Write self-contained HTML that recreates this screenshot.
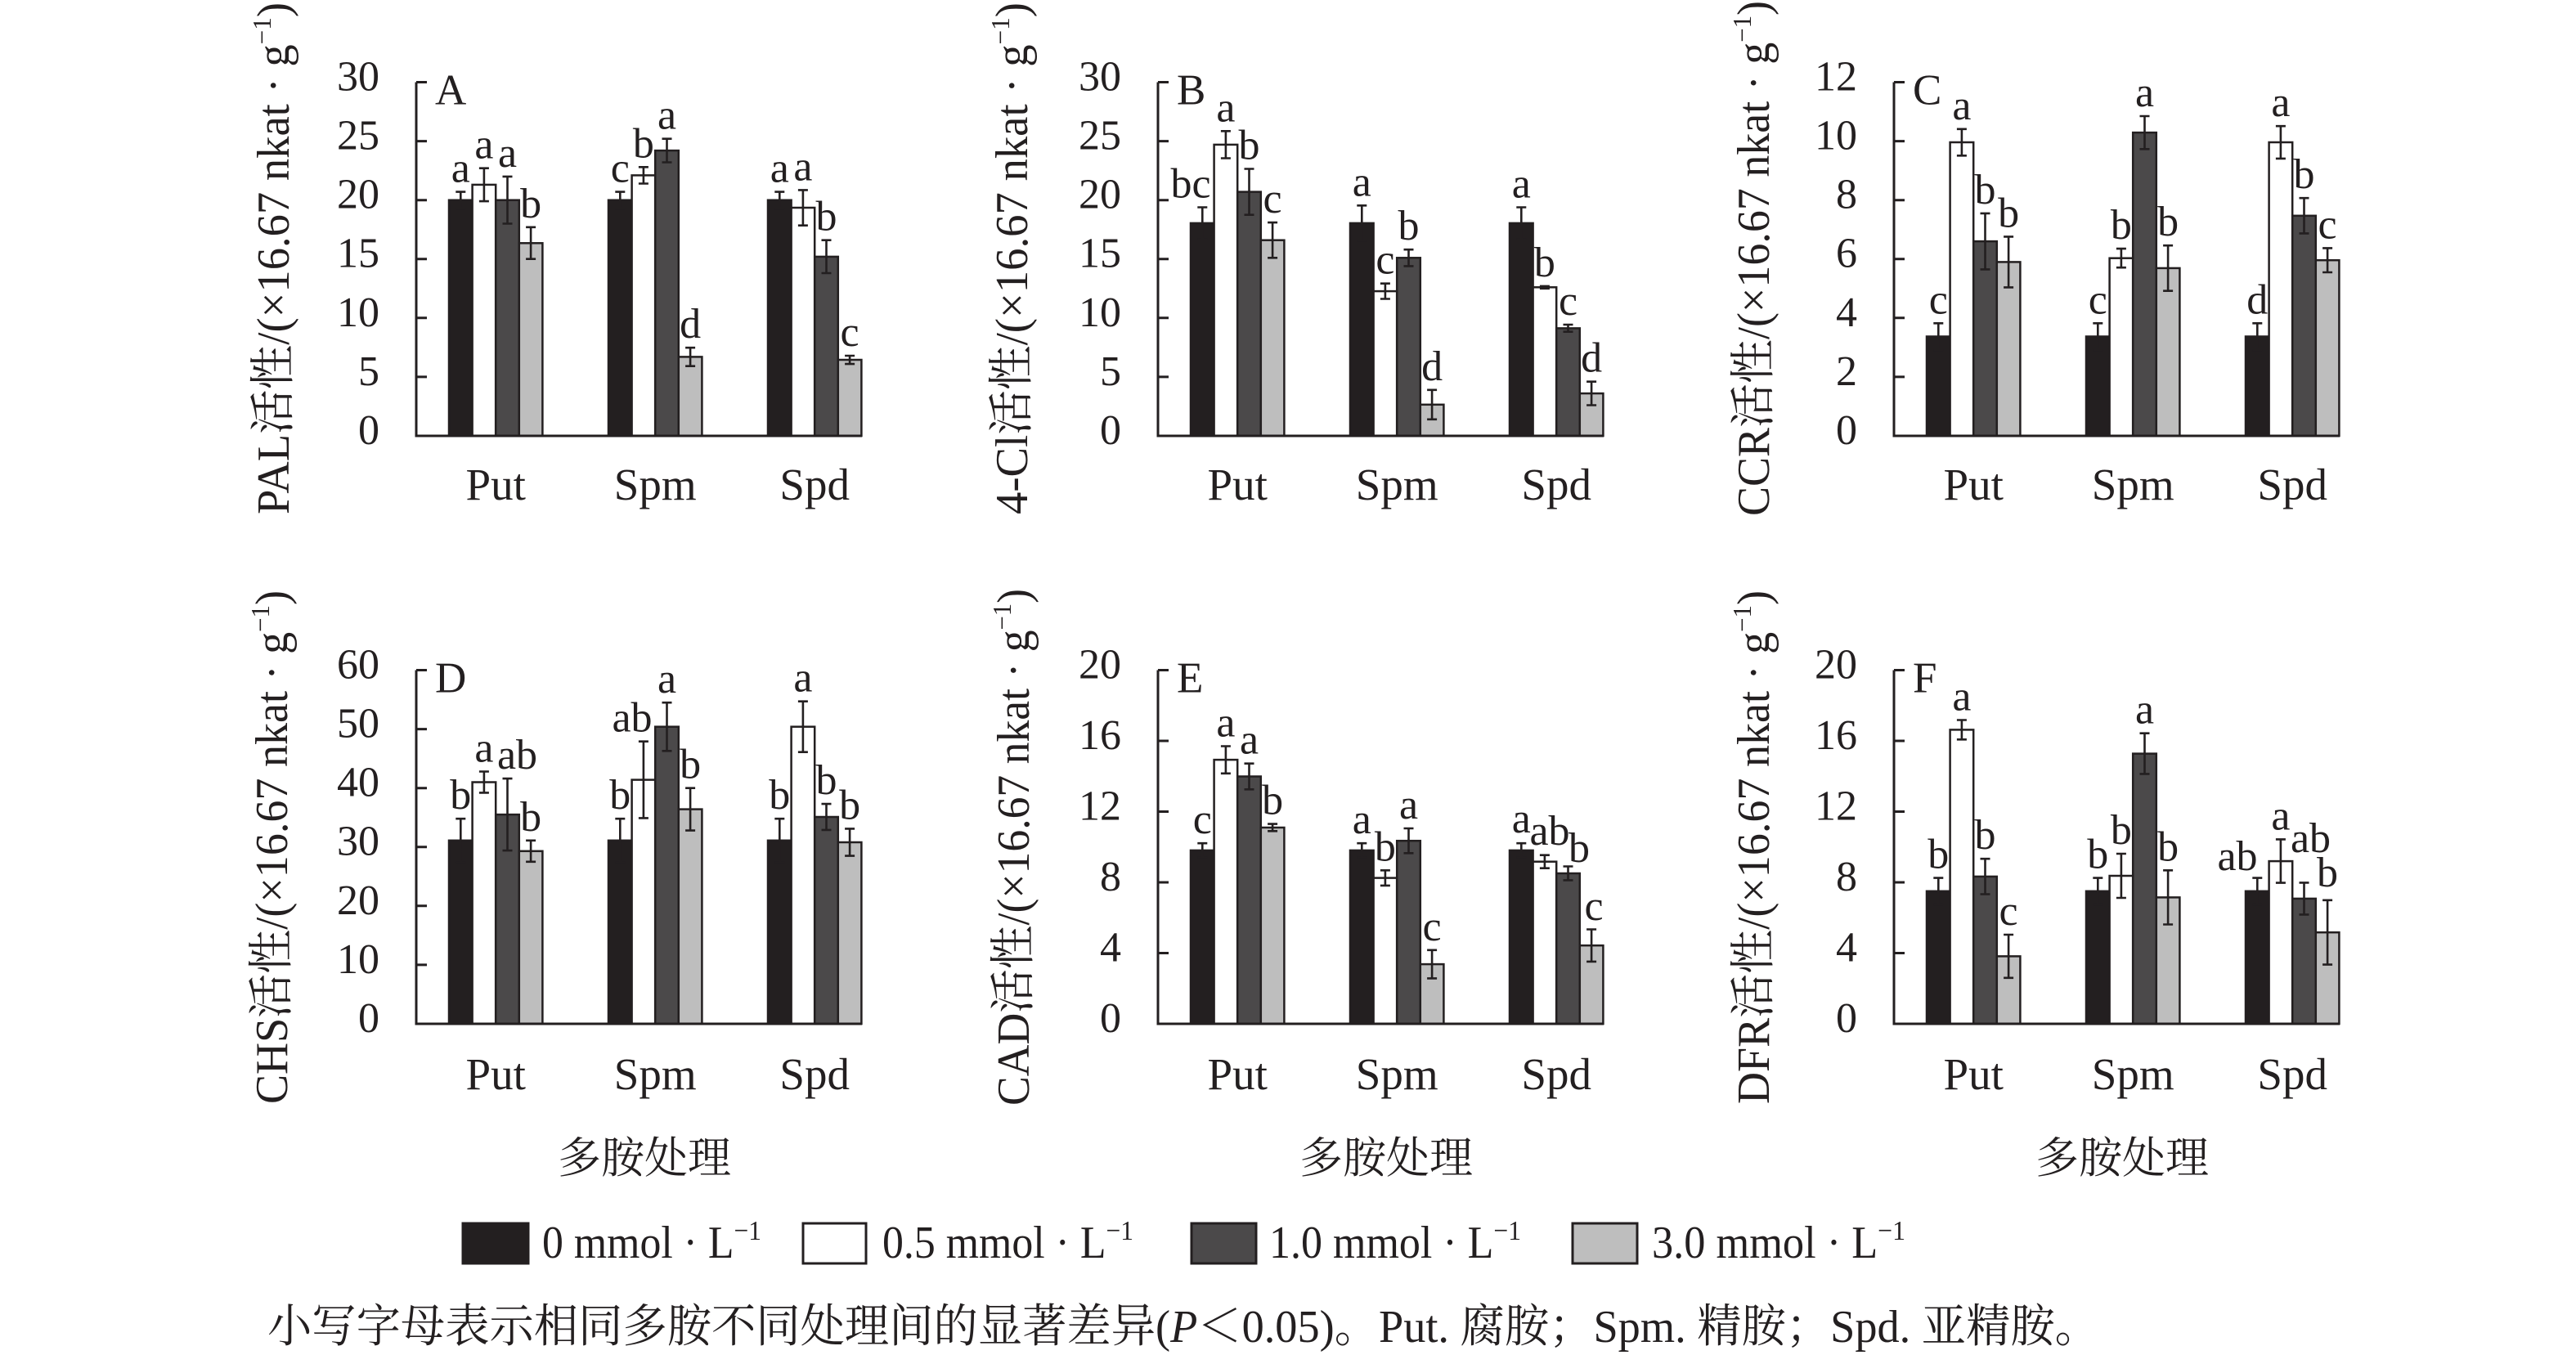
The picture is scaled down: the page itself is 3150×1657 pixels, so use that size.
<!DOCTYPE html>
<html><head><meta charset="utf-8">
<style>
html,body{margin:0;padding:0;background:#fff;}
svg{display:block;}
text{font-family:"Liberation Serif","Noto Serif CJK SC",serif;fill:#231f20;}
.tl{font-size:52px;text-anchor:end;}
.lt{font-size:52px;text-anchor:middle;}
.cat{font-size:55px;text-anchor:middle;}
.pl{font-size:53px;}
.yl{font-size:56px;text-anchor:middle;}
.xt{font-size:53px;text-anchor:middle;}
.lg{font-size:56px;}
.cap{font-size:56px;}
.k{fill:#231f20;stroke:#231f20;stroke-width:2.5;}
.w{fill:#fff;stroke:#231f20;stroke-width:2.5;}
.d{fill:#4b494a;stroke:#231f20;stroke-width:2.5;}
.g{fill:#bebebe;stroke:#231f20;stroke-width:2.5;}
.ax{fill:none;stroke:#231f20;stroke-width:3;}
.er{fill:none;stroke:#231f20;stroke-width:2.6;}
</style></head>
<body>
<svg width="3150" height="1657" viewBox="0 0 3150 1657" xmlns="http://www.w3.org/2000/svg">
<rect x="0" y="0" width="3150" height="1657" fill="#fff"/>

<!-- Panel A -->
<g transform="translate(509,533)">
<rect class="k" x="40" y="-288.3" width="28.6" height="288.3"/>
<rect class="w" x="68.6" y="-307.1" width="28.6" height="307.1"/>
<rect class="d" x="97.2" y="-288.3" width="28.6" height="288.3"/>
<rect class="g" x="125.8" y="-235.7" width="28.6" height="235.7"/>
<rect class="k" x="235" y="-288.3" width="28.6" height="288.3"/>
<rect class="w" x="263.6" y="-318.6" width="28.6" height="318.6"/>
<rect class="d" x="292.2" y="-348.9" width="28.6" height="348.9"/>
<rect class="g" x="320.8" y="-96.6" width="28.6" height="96.6"/>
<rect class="k" x="430" y="-288.3" width="28.6" height="288.3"/>
<rect class="w" x="458.6" y="-279" width="28.6" height="279"/>
<rect class="d" x="487.2" y="-219.1" width="28.6" height="219.1"/>
<rect class="g" x="515.8" y="-93" width="28.6" height="93"/>
<path class="er" d="M54.3,-298.4V-278.2M48.3,-298.4h12M48.3,-278.2h12M82.9,-327.3V-286.9M76.9,-327.3h12M76.9,-286.9h12M111.5,-317.1V-259.5M105.5,-317.1h12M105.5,-259.5h12M140.1,-255.2V-216.3M134.1,-255.2h12M134.1,-216.3h12M249.3,-298.4V-278.2M243.3,-298.4h12M243.3,-278.2h12M277.9,-328.7V-308.5M271.9,-328.7h12M271.9,-308.5h12M306.5,-363.3V-334.5M300.5,-363.3h12M300.5,-334.5h12M335.1,-107.8V-85.3M329.1,-107.8h12M329.1,-85.3h12M444.3,-298.4V-278.2M438.3,-298.4h12M438.3,-278.2h12M472.9,-300.6V-257.3M466.9,-300.6h12M466.9,-257.3h12M501.5,-239.3V-199M495.5,-239.3h12M495.5,-199h12M530.1,-98V-87.9M524.1,-98h12M524.1,-87.9h12"/>
<path class="ax" d="M0,-432.5V0H545M0,-72.1h13M0,-144.2h13M0,-216.3h13M0,-288.3h13M0,-360.4h13M0,-432.5h13"/>
<text class="tl" x="-45" y="10">0</text><text class="tl" x="-45" y="-62.1">5</text><text class="tl" x="-45" y="-134.2">10</text><text class="tl" x="-45" y="-206.3">15</text><text class="tl" x="-45" y="-278.3">20</text><text class="tl" x="-45" y="-350.4">25</text><text class="tl" x="-45" y="-422.5">30</text>
<text class="pl" x="23" y="-405.5">A</text>
<text class="lt" x="54.3" y="-310.4">a</text><text class="lt" x="82.9" y="-339.3">a</text><text class="lt" x="111.5" y="-329.1">a</text><text class="lt" x="140.1" y="-267.2">b</text>
<text class="lt" x="249.3" y="-310.4">c</text><text class="lt" x="277.9" y="-340.7">b</text><text class="lt" x="306.5" y="-375.3">a</text><text class="lt" x="335.1" y="-119.8">d</text>
<text class="lt" x="444.3" y="-310.4">a</text><text class="lt" x="472.9" y="-312.6">a</text><text class="lt" x="501.5" y="-251.3">b</text><text class="lt" x="530.1" y="-110">c</text>
<text class="cat" x="97.2" y="78">Put</text><text class="cat" x="292.2" y="78">Spm</text><text class="cat" x="487.2" y="78">Spd</text>
<text class="yl" transform="translate(-156,-217) rotate(-90)" textLength="626" lengthAdjust="spacingAndGlyphs">PAL活性/(×16.67 nkat · g<tspan font-size="32" dy="-22">−1</tspan><tspan dy="22">)</tspan></text>
</g>

<!-- Panel B -->
<g transform="translate(1416,533)">
<rect class="k" x="40" y="-260.1" width="28.6" height="260.1"/>
<rect class="w" x="68.6" y="-356.1" width="28.6" height="356.1"/>
<rect class="d" x="97.2" y="-298.4" width="28.6" height="298.4"/>
<rect class="g" x="125.8" y="-239.3" width="28.6" height="239.3"/>
<rect class="k" x="235" y="-260.1" width="28.6" height="260.1"/>
<rect class="w" x="263.6" y="-176.9" width="28.6" height="176.9"/>
<rect class="d" x="292.2" y="-217.7" width="28.6" height="217.7"/>
<rect class="g" x="320.8" y="-38.2" width="28.6" height="38.2"/>
<rect class="k" x="430" y="-260.1" width="28.6" height="260.1"/>
<rect class="w" x="458.6" y="-181.7" width="28.6" height="181.7"/>
<rect class="d" x="487.2" y="-131.6" width="28.6" height="131.6"/>
<rect class="g" x="515.8" y="-51.9" width="28.6" height="51.9"/>
<path class="er" d="M54.3,-279.5V-240.6M48.3,-279.5h12M48.3,-240.6h12M82.9,-372.7V-339.5M76.9,-372.7h12M76.9,-339.5h12M111.5,-326.5V-270.3M105.5,-326.5h12M105.5,-270.3h12M140.1,-260.9V-217.7M134.1,-260.9h12M134.1,-217.7h12M249.3,-281.7V-238.5M243.3,-281.7h12M243.3,-238.5h12M277.9,-186.3V-167.5M271.9,-186.3h12M271.9,-167.5h12M306.5,-227.8V-207.6M300.5,-227.8h12M300.5,-207.6h12M335.1,-56.2V-20.2M329.1,-56.2h12M329.1,-20.2h12M444.3,-279.5V-240.6M438.3,-279.5h12M438.3,-240.6h12M472.9,-183.1V-180.2M466.9,-183.1h12M466.9,-180.2h12M501.5,-136V-127.3M495.5,-136h12M495.5,-127.3h12M530.1,-66.3V-37.5M524.1,-66.3h12M524.1,-37.5h12"/>
<path class="ax" d="M0,-432.5V0H545M0,-72.1h13M0,-144.2h13M0,-216.3h13M0,-288.3h13M0,-360.4h13M0,-432.5h13"/>
<text class="tl" x="-45" y="10">0</text><text class="tl" x="-45" y="-62.1">5</text><text class="tl" x="-45" y="-134.2">10</text><text class="tl" x="-45" y="-206.3">15</text><text class="tl" x="-45" y="-278.3">20</text><text class="tl" x="-45" y="-350.4">25</text><text class="tl" x="-45" y="-422.5">30</text>
<text class="pl" x="23" y="-405.5">B</text>
<text class="lt" x="40" y="-291.5">bc</text><text class="lt" x="82.9" y="-384.7">a</text><text class="lt" x="111.5" y="-338.5">b</text><text class="lt" x="140.1" y="-272.9">c</text>
<text class="lt" x="249.3" y="-293.7">a</text><text class="lt" x="277.9" y="-198.3">c</text><text class="lt" x="306.5" y="-239.8">b</text><text class="lt" x="335.1" y="-68.2">d</text>
<text class="lt" x="444.3" y="-291.5">a</text><text class="lt" x="472.9" y="-195.1">b</text><text class="lt" x="501.5" y="-148">c</text><text class="lt" x="530.1" y="-78.3">d</text>
<text class="cat" x="97.2" y="78">Put</text><text class="cat" x="292.2" y="78">Spm</text><text class="cat" x="487.2" y="78">Spd</text>
<text class="yl" transform="translate(-160,-217) rotate(-90)" textLength="626" lengthAdjust="spacingAndGlyphs">4-Cl活性/(×16.67 nkat · g<tspan font-size="32" dy="-22">−1</tspan><tspan dy="22">)</tspan></text>
</g>

<!-- Panel C -->
<g transform="translate(2316,533)">
<rect class="k" x="40" y="-121.5" width="28.6" height="121.5"/>
<rect class="w" x="68.6" y="-359" width="28.6" height="359"/>
<rect class="d" x="97.2" y="-237.9" width="28.6" height="237.9"/>
<rect class="g" x="125.8" y="-212.6" width="28.6" height="212.6"/>
<rect class="k" x="235" y="-121.5" width="28.6" height="121.5"/>
<rect class="w" x="263.6" y="-217.3" width="28.6" height="217.3"/>
<rect class="d" x="292.2" y="-370.9" width="28.6" height="370.9"/>
<rect class="g" x="320.8" y="-205.1" width="28.6" height="205.1"/>
<rect class="k" x="430" y="-121.5" width="28.6" height="121.5"/>
<rect class="w" x="458.6" y="-359" width="28.6" height="359"/>
<rect class="d" x="487.2" y="-269.2" width="28.6" height="269.2"/>
<rect class="g" x="515.8" y="-214.8" width="28.6" height="214.8"/>
<path class="er" d="M54.3,-137.7V-105.2M48.3,-137.7h12M48.3,-105.2h12M82.9,-375.2V-342.7M76.9,-375.2h12M76.9,-342.7h12M111.5,-272.1V-203.6M105.5,-272.1h12M105.5,-203.6h12M140.1,-243.6V-181.6M134.1,-243.6h12M134.1,-181.6h12M249.3,-137.7V-105.2M243.3,-137.7h12M243.3,-105.2h12M277.9,-228.9V-205.8M271.9,-228.9h12M271.9,-205.8h12M306.5,-391V-350.7M300.5,-391h12M300.5,-350.7h12M335.1,-232.8V-177.3M329.1,-232.8h12M329.1,-177.3h12M444.3,-137.7V-105.2M438.3,-137.7h12M438.3,-105.2h12M472.9,-378.8V-339.1M466.9,-378.8h12M466.9,-339.1h12M501.5,-290.8V-247.6M495.5,-290.8h12M495.5,-247.6h12M530.1,-229.6V-200M524.1,-229.6h12M524.1,-200h12"/>
<path class="ax" d="M0,-432.5V0H545M0,-72.1h13M0,-144.2h13M0,-216.3h13M0,-288.3h13M0,-360.4h13M0,-432.5h13"/>
<text class="tl" x="-45" y="10">0</text><text class="tl" x="-45" y="-62.1">2</text><text class="tl" x="-45" y="-134.2">4</text><text class="tl" x="-45" y="-206.3">6</text><text class="tl" x="-45" y="-278.3">8</text><text class="tl" x="-45" y="-350.4">10</text><text class="tl" x="-45" y="-422.5">12</text>
<text class="pl" x="23" y="-405.5">C</text>
<text class="lt" x="54.3" y="-149.7">c</text><text class="lt" x="82.9" y="-387.2">a</text><text class="lt" x="111.5" y="-284.1">b</text><text class="lt" x="140.1" y="-255.6">b</text>
<text class="lt" x="249.3" y="-149.7">c</text><text class="lt" x="277.9" y="-240.9">b</text><text class="lt" x="306.5" y="-403">a</text><text class="lt" x="335.1" y="-244.8">b</text>
<text class="lt" x="444.3" y="-149.7">d</text><text class="lt" x="472.9" y="-390.8">a</text><text class="lt" x="501.5" y="-302.8">b</text><text class="lt" x="530.1" y="-241.6">c</text>
<text class="cat" x="97.2" y="78">Put</text><text class="cat" x="292.2" y="78">Spm</text><text class="cat" x="487.2" y="78">Spd</text>
<text class="yl" transform="translate(-153,-217) rotate(-90)" textLength="630" lengthAdjust="spacingAndGlyphs">CCR活性/(×16.67 nkat · g<tspan font-size="32" dy="-22">−1</tspan><tspan dy="22">)</tspan></text>
</g>

<!-- Panel D -->
<g transform="translate(509,1252)">
<rect class="k" x="40" y="-224.2" width="28.6" height="224.2"/>
<rect class="w" x="68.6" y="-295.5" width="28.6" height="295.5"/>
<rect class="d" x="97.2" y="-255.9" width="28.6" height="255.9"/>
<rect class="g" x="125.8" y="-211.2" width="28.6" height="211.2"/>
<rect class="k" x="235" y="-224.2" width="28.6" height="224.2"/>
<rect class="w" x="263.6" y="-298.4" width="28.6" height="298.4"/>
<rect class="d" x="292.2" y="-363.3" width="28.6" height="363.3"/>
<rect class="g" x="320.8" y="-262.4" width="28.6" height="262.4"/>
<rect class="k" x="430" y="-224.2" width="28.6" height="224.2"/>
<rect class="w" x="458.6" y="-363.3" width="28.6" height="363.3"/>
<rect class="d" x="487.2" y="-253" width="28.6" height="253"/>
<rect class="g" x="515.8" y="-222" width="28.6" height="222"/>
<path class="er" d="M54.3,-250.8V-197.5M48.3,-250.8h12M48.3,-197.5h12M82.9,-308.5V-282.6M76.9,-308.5h12M76.9,-282.6h12M111.5,-299.9V-211.9M105.5,-299.9h12M105.5,-211.9h12M140.1,-224.2V-198.2M134.1,-224.2h12M134.1,-198.2h12M249.3,-250.8V-197.5M243.3,-250.8h12M243.3,-197.5h12M277.9,-345.3V-251.6M271.9,-345.3h12M271.9,-251.6h12M306.5,-392.8V-333.7M300.5,-392.8h12M300.5,-333.7h12M335.1,-288.3V-236.4M329.1,-288.3h12M329.1,-236.4h12M444.3,-250.8V-197.5M438.3,-250.8h12M438.3,-197.5h12M472.9,-394.3V-332.3M466.9,-394.3h12M466.9,-332.3h12M501.5,-268.9V-237.1M495.5,-268.9h12M495.5,-237.1h12M530.1,-238.6V-205.4M524.1,-238.6h12M524.1,-205.4h12"/>
<path class="ax" d="M0,-432.5V0H545M0,-72.1h13M0,-144.2h13M0,-216.3h13M0,-288.3h13M0,-360.4h13M0,-432.5h13"/>
<text class="tl" x="-45" y="10">0</text><text class="tl" x="-45" y="-62.1">10</text><text class="tl" x="-45" y="-134.2">20</text><text class="tl" x="-45" y="-206.3">30</text><text class="tl" x="-45" y="-278.3">40</text><text class="tl" x="-45" y="-350.4">50</text><text class="tl" x="-45" y="-422.5">60</text>
<text class="pl" x="23" y="-405.5">D</text>
<text class="lt" x="54.3" y="-262.8">b</text><text class="lt" x="82.9" y="-320.5">a</text><text class="lt" x="123.5" y="-311.9">ab</text><text class="lt" x="140.1" y="-236.2">b</text>
<text class="lt" x="249.3" y="-262.8">b</text><text class="lt" x="264" y="-357.3">ab</text><text class="lt" x="306.5" y="-404.8">a</text><text class="lt" x="335.1" y="-300.3">b</text>
<text class="lt" x="444.3" y="-262.8">b</text><text class="lt" x="472.9" y="-406.3">a</text><text class="lt" x="501.5" y="-280.9">b</text><text class="lt" x="530.1" y="-250.6">b</text>
<text class="cat" x="97.2" y="80">Put</text><text class="cat" x="292.2" y="80">Spm</text><text class="cat" x="487.2" y="80">Spd</text>
<text class="xt" x="279" y="182">多胺处理</text>
<text class="yl" transform="translate(-158,-216) rotate(-90)" textLength="628" lengthAdjust="spacingAndGlyphs">CHS活性/(×16.67 nkat · g<tspan font-size="32" dy="-22">−1</tspan><tspan dy="22">)</tspan></text>
</g>

<!-- Panel E -->
<g transform="translate(1416,1252)">
<rect class="k" x="40" y="-212.1" width="28.6" height="212.1"/>
<rect class="w" x="68.6" y="-322.9" width="28.6" height="322.9"/>
<rect class="d" x="97.2" y="-302.5" width="28.6" height="302.5"/>
<rect class="g" x="125.8" y="-240" width="28.6" height="240"/>
<rect class="k" x="235" y="-212.1" width="28.6" height="212.1"/>
<rect class="w" x="263.6" y="-178.4" width="28.6" height="178.4"/>
<rect class="d" x="292.2" y="-223.8" width="28.6" height="223.8"/>
<rect class="g" x="320.8" y="-72.9" width="28.6" height="72.9"/>
<rect class="k" x="430" y="-212.1" width="28.6" height="212.1"/>
<rect class="w" x="458.6" y="-198.3" width="28.6" height="198.3"/>
<rect class="d" x="487.2" y="-184" width="28.6" height="184"/>
<rect class="g" x="515.8" y="-95.8" width="28.6" height="95.8"/>
<path class="er" d="M54.3,-220.8V-203.5M48.3,-220.8h12M48.3,-203.5h12M82.9,-339.5V-306.2M76.9,-339.5h12M76.9,-306.2h12M111.5,-318.3V-286.7M105.5,-318.3h12M105.5,-286.7h12M140.1,-244.4V-235.7M134.1,-244.4h12M134.1,-235.7h12M249.3,-220.8V-203.5M243.3,-220.8h12M243.3,-203.5h12M277.9,-187.7V-169.1M271.9,-187.7h12M271.9,-169.1h12M306.5,-239V-208.7M300.5,-239h12M300.5,-208.7h12M335.1,-90.2V-55.6M329.1,-90.2h12M329.1,-55.6h12M444.3,-220.8V-203.5M438.3,-220.8h12M438.3,-203.5h12M472.9,-206.3V-190.3M466.9,-206.3h12M466.9,-190.3h12M501.5,-192.5V-175.6M495.5,-192.5h12M495.5,-175.6h12M530.1,-115.5V-76.1M524.1,-115.5h12M524.1,-76.1h12"/>
<path class="ax" d="M0,-432.5V0H545M0,-86.5h13M0,-173h13M0,-259.5h13M0,-346h13M0,-432.5h13"/>
<text class="tl" x="-45" y="10">0</text><text class="tl" x="-45" y="-76.5">4</text><text class="tl" x="-45" y="-163">8</text><text class="tl" x="-45" y="-249.5">12</text><text class="tl" x="-45" y="-336">16</text><text class="tl" x="-45" y="-422.5">20</text>
<text class="pl" x="23" y="-405.5">E</text>
<text class="lt" x="54.3" y="-232.8">c</text><text class="lt" x="82.9" y="-351.5">a</text><text class="lt" x="111.5" y="-330.3">a</text><text class="lt" x="140.1" y="-256.4">b</text>
<text class="lt" x="249.3" y="-232.8">a</text><text class="lt" x="277.9" y="-199.7">b</text><text class="lt" x="306.5" y="-251">a</text><text class="lt" x="335.1" y="-102.2">c</text>
<text class="lt" x="444.3" y="-234">a</text><text class="lt" x="479" y="-219">ab</text><text class="lt" x="515" y="-198">b</text><text class="lt" x="533" y="-127">c</text>
<text class="cat" x="97.2" y="80">Put</text><text class="cat" x="292.2" y="80">Spm</text><text class="cat" x="487.2" y="80">Spd</text>
<text class="xt" x="279" y="182">多胺处理</text>
<text class="yl" transform="translate(-158,-216) rotate(-90)" textLength="632" lengthAdjust="spacingAndGlyphs">CAD活性/(×16.67 nkat · g<tspan font-size="32" dy="-22">−1</tspan><tspan dy="22">)</tspan></text>
</g>

<!-- Panel F -->
<g transform="translate(2316,1252)">
<rect class="k" x="40" y="-162.2" width="28.6" height="162.2"/>
<rect class="w" x="68.6" y="-359.6" width="28.6" height="359.6"/>
<rect class="d" x="97.2" y="-180.1" width="28.6" height="180.1"/>
<rect class="g" x="125.8" y="-82.6" width="28.6" height="82.6"/>
<rect class="k" x="235" y="-162.2" width="28.6" height="162.2"/>
<rect class="w" x="263.6" y="-181" width="28.6" height="181"/>
<rect class="d" x="292.2" y="-330.4" width="28.6" height="330.4"/>
<rect class="g" x="320.8" y="-154.6" width="28.6" height="154.6"/>
<rect class="k" x="430" y="-162.2" width="28.6" height="162.2"/>
<rect class="w" x="458.6" y="-198.9" width="28.6" height="198.9"/>
<rect class="d" x="487.2" y="-153.1" width="28.6" height="153.1"/>
<rect class="g" x="515.8" y="-111.8" width="28.6" height="111.8"/>
<path class="er" d="M54.3,-178.4V-146M48.3,-178.4h12M48.3,-146h12M82.9,-371.5V-347.7M76.9,-371.5h12M76.9,-347.7h12M111.5,-201.8V-158.5M105.5,-201.8h12M105.5,-158.5h12M140.1,-109V-56.2M134.1,-109h12M134.1,-56.2h12M249.3,-178.4V-146M243.3,-178.4h12M243.3,-146h12M277.9,-208V-154M271.9,-208h12M271.9,-154h12M306.5,-355.3V-305.6M300.5,-355.3h12M300.5,-305.6h12M335.1,-187.7V-121.5M329.1,-187.7h12M329.1,-121.5h12M444.3,-178.4V-146M438.3,-178.4h12M438.3,-146h12M472.9,-225.6V-172.4M466.9,-225.6h12M466.9,-172.4h12M501.5,-172.6V-133.6M495.5,-172.6h12M495.5,-133.6h12M530.1,-151.2V-72.4M524.1,-151.2h12M524.1,-72.4h12"/>
<path class="ax" d="M0,-432.5V0H545M0,-86.5h13M0,-173h13M0,-259.5h13M0,-346h13M0,-432.5h13"/>
<text class="tl" x="-45" y="10">0</text><text class="tl" x="-45" y="-76.5">4</text><text class="tl" x="-45" y="-163">8</text><text class="tl" x="-45" y="-249.5">12</text><text class="tl" x="-45" y="-336">16</text><text class="tl" x="-45" y="-422.5">20</text>
<text class="pl" x="23" y="-405.5">F</text>
<text class="lt" x="54.3" y="-190.4">b</text><text class="lt" x="82.9" y="-383.5">a</text><text class="lt" x="111.5" y="-213.8">b</text><text class="lt" x="140.1" y="-121">c</text>
<text class="lt" x="249.3" y="-190.4">b</text><text class="lt" x="277.9" y="-220">b</text><text class="lt" x="306.5" y="-367.3">a</text><text class="lt" x="335.1" y="-199.7">b</text>
<text class="lt" x="420" y="-188">ab</text><text class="lt" x="472.9" y="-237.6">a</text><text class="lt" x="509.5" y="-210">ab</text><text class="lt" x="530" y="-168">b</text>
<text class="cat" x="97.2" y="80">Put</text><text class="cat" x="292.2" y="80">Spm</text><text class="cat" x="487.2" y="80">Spd</text>
<text class="xt" x="279" y="182">多胺处理</text>
<text class="yl" transform="translate(-153,-216) rotate(-90)" textLength="628" lengthAdjust="spacingAndGlyphs">DFR活性/(×16.67 nkat · g<tspan font-size="32" dy="-22">−1</tspan><tspan dy="22">)</tspan></text>
</g>

<!-- Legend -->
<rect x="566" y="1496" width="80" height="49" fill="#231f20" stroke="#231f20" stroke-width="3"/>
<text class="lg" x="663" y="1538" textLength="268" lengthAdjust="spacingAndGlyphs">0 mmol · L<tspan font-size="34" dy="-22">−1</tspan></text>
<rect x="982" y="1496" width="77" height="49" fill="#fff" stroke="#231f20" stroke-width="3"/>
<text class="lg" x="1079" y="1538" textLength="307" lengthAdjust="spacingAndGlyphs">0.5 mmol · L<tspan font-size="34" dy="-22">−1</tspan></text>
<rect x="1457" y="1496" width="79" height="49" fill="#4b494a" stroke="#231f20" stroke-width="3"/>
<text class="lg" x="1552" y="1538" textLength="308" lengthAdjust="spacingAndGlyphs">1.0 mmol · L<tspan font-size="34" dy="-22">−1</tspan></text>
<rect x="1923" y="1496" width="79" height="49" fill="#bebebe" stroke="#231f20" stroke-width="3"/>
<text class="lg" x="2020" y="1538" textLength="310" lengthAdjust="spacingAndGlyphs">3.0 mmol · L<tspan font-size="34" dy="-22">−1</tspan></text>

<!-- Caption -->
<text class="cap" x="327" y="1641" textLength="2240" lengthAdjust="spacingAndGlyphs">小写字母表示相同多胺不同处理间的显著差异(<tspan font-style="italic">P</tspan>＜0.05)。Put. 腐胺；Spm. 精胺；Spd. 亚精胺。</text>
</svg>
</body></html>
